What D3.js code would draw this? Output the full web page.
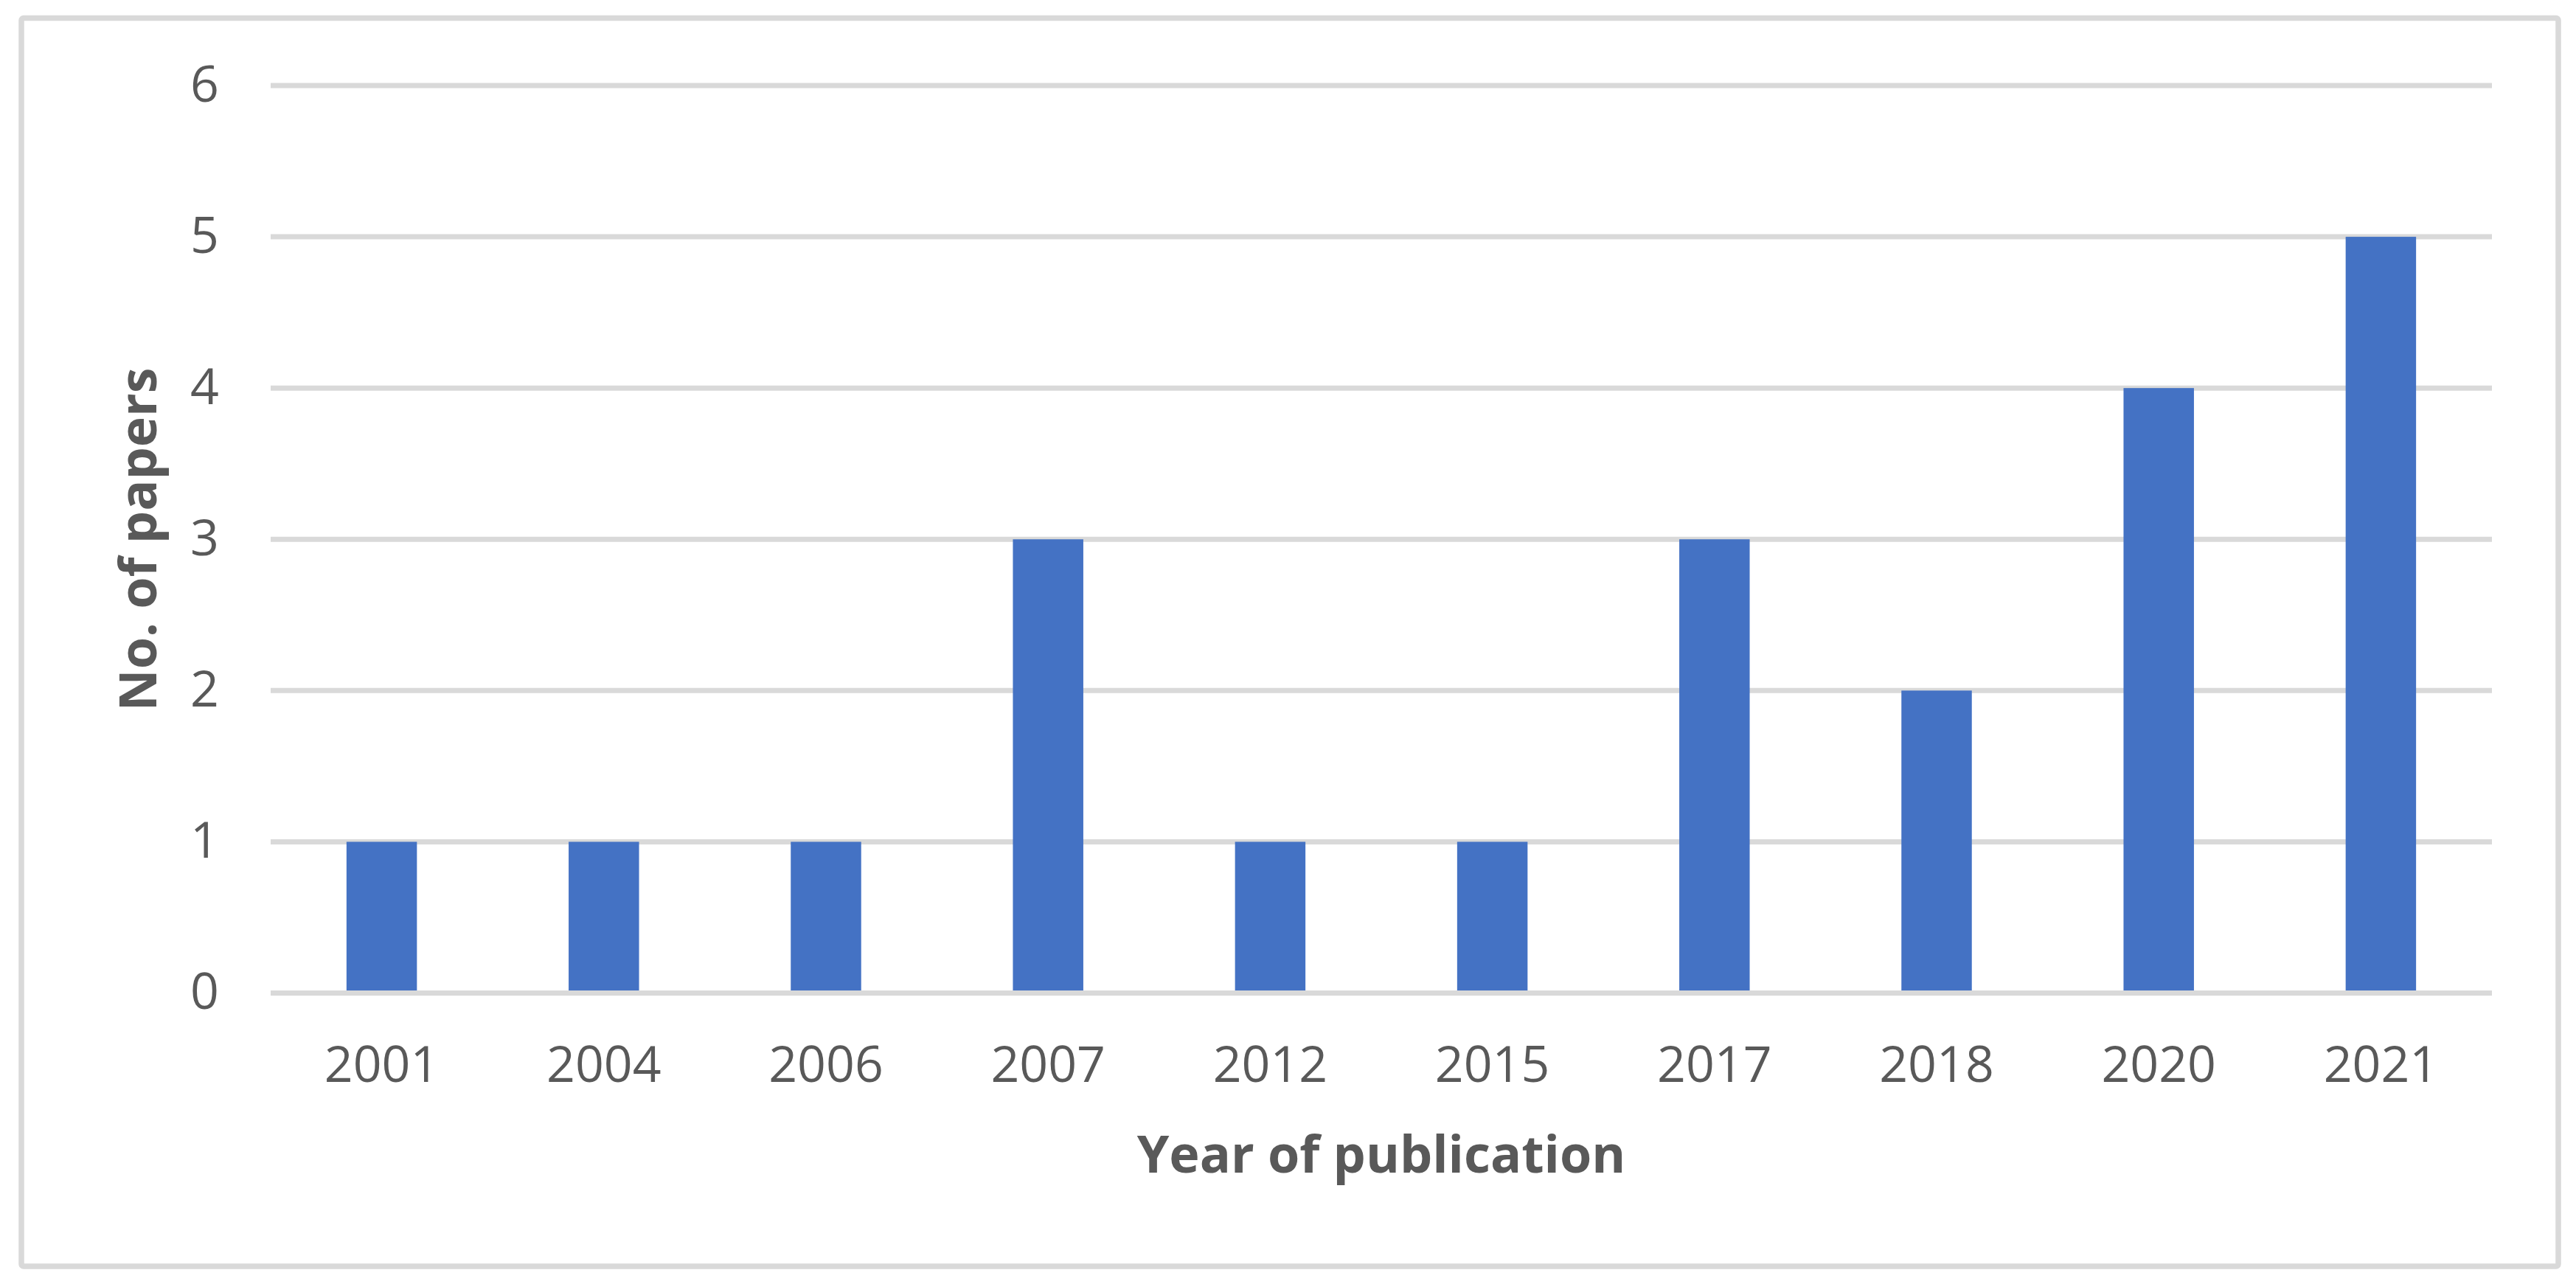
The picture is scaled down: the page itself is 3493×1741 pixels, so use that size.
<!DOCTYPE html>
<html>
<head>
<meta charset="utf-8">
<script src="https://cdn.jsdelivr.net/npm/d3@7"></script>
<style>
    html, body { margin: 0; padding: 0; background: #fff; }
    svg { display: block; }
    .tick-label { font-family: "Open Sans", sans-serif; font-size: 68px; fill: #595959; }
    .axis-title { font-family: "Open Sans", sans-serif; font-size: 70px; font-weight: bold; fill: #595959; }
</style>
</head>
<body>
<svg id="chart"></svg>
<script>
(function() {

const years = ["2001", "2004", "2006", "2007", "2012", "2015", "2017", "2018", "2020", "2021"];
const papers = [1, 1, 1, 3, 1, 1, 3, 2, 4, 5];
const yTicks = [0, 1, 2, 3, 4, 5, 6];

const barColor = "#4472C4";
const gridColor = "#D9D9D9";

const width = 3493;
const height = 1741;
const margin = {top: 116, right: 114, bottom: 394.5, left: 367};

const svg = d3.select("#chart")
    .attr("width", width)
    .attr("height", height)
    .attr("viewBox", `0 0 ${width} ${height}`);

// outer chart frame
svg.append("rect")
    .attr("x", 29)
    .attr("y", 24.5)
    .attr("width", 3469 - 29)
    .attr("height", 1717 - 24.5)
    .attr("rx", 3)
    .attr("fill", "#fff")
    .attr("stroke", gridColor)
    .attr("stroke-width", 7.5);

const x = d3.scaleBand()
    .domain(years)
    .range([margin.left, width - margin.right])
    .paddingInner(0.683)
    .paddingOuter(0.683 / 2);

const y = d3.scaleLinear()
    .domain([0, 6])
    .range([height - margin.bottom, margin.top]);

// gridlines (zero line drawn later, above the bars)
svg.append("g")
    .selectAll("line")
    .data(yTicks.filter(d => d !== 0))
    .join("line")
    .attr("x1", margin.left)
    .attr("x2", width - margin.right)
    .attr("y1", d => y(d))
    .attr("y2", d => y(d))
    .attr("stroke", gridColor)
    .attr("stroke-width", 7);

svg.append("g")
    .selectAll("rect")
    .data(years.map((yr, i) => ({year: yr, value: papers[i]})))
    .join("rect")
    .attr("x", d => x(d.year))
    .attr("y", d => y(d.value))
    .attr("width", x.bandwidth())
    .attr("height", d => y(0) - y(d.value))
    .attr("fill", barColor);

svg.append("line")
    .attr("x1", margin.left)
    .attr("x2", width - margin.right)
    .attr("y1", y(0))
    .attr("y2", y(0))
    .attr("stroke", gridColor)
    .attr("stroke-width", 7);

// y tick labels
svg.append("g")
    .selectAll("text")
    .data(yTicks)
    .join("text")
    .attr("class", "tick-label")
    .attr("x", 297)
    .attr("y", d => y(d) + 21.5)
    .attr("text-anchor", "end")
    .text(d => d);

// x tick labels
svg.append("g")
    .selectAll("text")
    .data(years)
    .join("text")
    .attr("class", "tick-label")
    .attr("x", d => x(d) + x.bandwidth() / 2)
    .attr("y", 1467)
    .attr("text-anchor", "middle")
    .text(d => d);

svg.append("text")
    .attr("class", "axis-title")
    .attr("x", (margin.left + width - margin.right) / 2)
    .attr("y", 1590)
    .attr("text-anchor", "middle")
    .text("Year of publication");

svg.append("text")
    .attr("class", "axis-title")
    .attr("transform", `translate(212, ${(y(0) + y(6)) / 2}) rotate(-90)`)
    .attr("text-anchor", "middle")
    .text("No. of papers");

})();
</script>
</body>
</html>
